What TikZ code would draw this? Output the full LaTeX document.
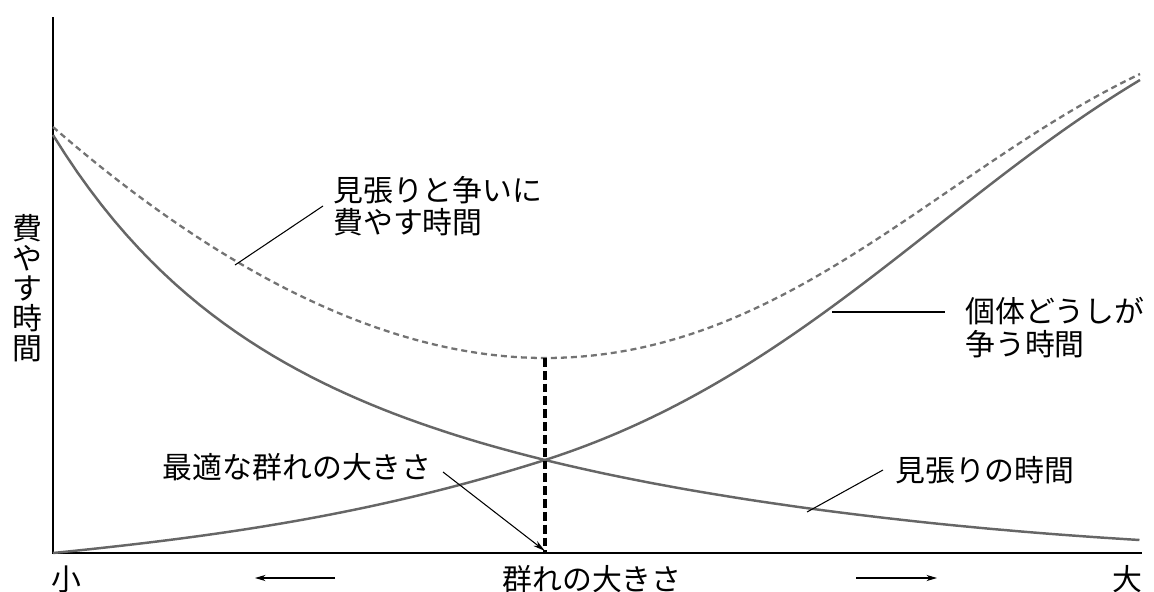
\documentclass[tikz,border=0pt]{standalone}
\usepackage{fontspec}
\setmainfont{Noto Sans CJK JP}
\usetikzlibrary{arrows.meta}
\tikzset{
	curve/.style={black!60,line width=1.4pt},
	sumcurve/.style={black!55,line width=1.3pt,dash pattern=on 3.4pt off 2.3pt},
	leader/.style={black,line width=0.6pt},
	lbl/.style={inner sep=0pt,font=\fontsize{17}{18.5}\selectfont,align=left},
}

\begin{document}
\begin{tikzpicture}[x=0.02cm,y=-0.02cm]
	\useasboundingbox (0,0) rectangle (1154,592);
	\coordinate (O) at (53,553);
	\coordinate (ytop) at (53,17);
	\coordinate (xend) at (1142,553);
	\draw[line width=0.9pt] (ytop) -- (O) -- (xend);

	\coordinate (cross) at (545,460);
	\coordinate (opt) at (545,358);
	\coordinate (optfoot) at (545,553);

	\draw[curve] plot[domain=0:1,samples=90] ({53+1087*\x},{553-418*exp(-4.239*\x+3.071*\x*\x-2.302*\x*\x*\x)});
	\draw[curve] (O) .. controls (223,536) and (375,514) .. (cross)
		.. controls (795,380) and (940,200) .. (1140,80);
	\draw[sumcurve] (53,127) .. controls (203,257.5) and (375,358) .. (opt)
		.. controls (785,358) and (940,169) .. (1140,74);

	\draw[black,line width=2pt,dash pattern=on 5pt off 2.3pt] (opt) -- (optfoot);

	\node[lbl,anchor=west] (sumlbl) at (333,206) {見張りと争いに\\費やす時間};
	\coordinate (sumpt) at (235,265);
	\draw[leader] (sumpt) -- ([xshift=-0.2cm]sumlbl.west);

	\node[lbl,anchor=west] (complbl) at (965,327.5) {個体どうしが\\争う時間};
	\coordinate (comppt) at (832,312);
	\coordinate (compend) at (945,312);
	\draw[leader] (comppt) -- (compend);

	\node[lbl,anchor=west] (watchlbl) at (895,470) {見張りの時間};
	\coordinate (watchpt) at (807,512);
	\draw[leader] (watchpt) -- ([xshift=-0.24cm]watchlbl.west);

	\node[lbl,anchor=east] (optlbl) at (432,467) {最適な群れの大きさ};
	\draw[leader,-{Stealth[length=7pt,width=3.5pt]}] ([xshift=0.22cm,yshift=-0.1cm]optlbl.east) -- ([yshift=0.04cm]optfoot);

	\node[lbl,align=center,font=\fontsize{17}{17.07}\selectfont] (ylbl) at (27,288) {費\\や\\す\\時\\間};

	\node[lbl] (small) at (66,579) {小};
	\node[lbl] (xlbl) at (592,579) {群れの大きさ};
	\node[lbl] (large) at (1127,579) {大};
	\coordinate (lfrom) at (335,578);
	\coordinate (lto) at (255,578);
	\coordinate (rfrom) at (856,578);
	\coordinate (rto) at (937,578);
	\draw[leader,-{Stealth[length=6pt,width=3.5pt]}] (lfrom) -- (lto);
	\draw[leader,-{Stealth[length=6pt,width=3.5pt]}] (rfrom) -- (rto);
\end{tikzpicture}
\end{document}
